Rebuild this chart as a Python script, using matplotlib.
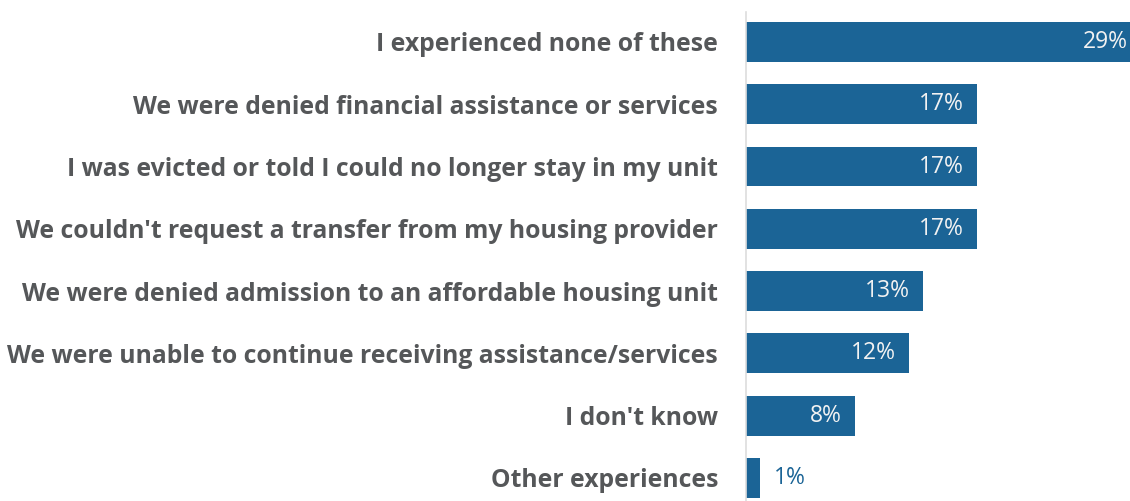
import matplotlib.pyplot as plt

categories = [
    "I experienced none of these",
    "We were denied financial assistance or services",
    "I was evicted or told I could no longer stay in my unit",
    "We couldn't request a transfer from my housing provider",
    "We were denied admission to an affordable housing unit",
    "We were unable to continue receiving assistance/services",
    "I don't know",
    "Other experiences",
]
values = [29, 17, 17, 17, 13, 12, 8, 1]
value_labels = ["29%", "17%", "17%", "17%", "13%", "12%", "8%", "1%"]

bar_color = "#1b6496"
label_color = "#555759"
x_max = 28.2

plt.rcParams['font.family'] = ['Open Sans', 'DejaVu Sans']

fig = plt.figure(figsize=(11.3, 5.01), dpi=100)
ax = fig.add_axes([746 / 1130, 0, 1 - 746 / 1130, 1])

pos = list(range(len(categories)))
ax.barh(pos, values, height=0.64, color=bar_color)

ax.set_xlim(0, x_max)
ax.set_ylim(7.37, -0.674)

for i, (v, lab) in enumerate(zip(values, value_labels)):
    if v >= 5:
        ax.annotate(lab, (v, i), xytext=(-9.5, 0), textcoords="offset points",
                    ha="right", va="center", color="#f2f2f2", fontsize=16.5,
                    annotation_clip=False)
    else:
        ax.annotate(lab, (v, i), xytext=(10, 0), textcoords="offset points",
                    ha="left", va="center", color=bar_color, fontsize=16.5)

ax.set_yticks(pos)
ax.set_yticklabels(categories, fontsize=17.8, fontweight="bold", color=label_color)
ax.tick_params(axis="y", length=0, pad=20)
ax.set_xticks([])

for s in ["top", "right", "bottom"]:
    ax.spines[s].set_visible(False)
ax.spines["left"].set_color("#dddddd")
ax.spines["left"].set_linewidth(1.2)
ax.spines["left"].set_bounds(7.37, -0.48)

fig.savefig("out.png", dpi=100)
